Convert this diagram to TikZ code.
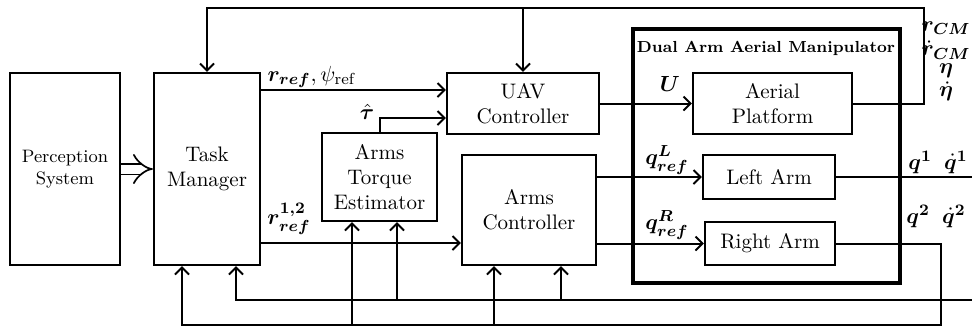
\documentclass[tikz,border=0pt]{standalone}
\usepackage{amsmath}
\usepackage{bm}
\usepackage{tikz}
\usetikzlibrary{arrows.meta}

\begin{document}
\begin{tikzpicture}[x=0.5pt,y=-0.5pt,>={Straight Barb[length=3.5pt,width=7pt]},
    every node/.style={font=\fontsize{10.5}{12.5}\selectfont},
    blk/.style={draw,line width=1.1pt,align=center,inner sep=0pt},
    lbl/.style={inner sep=0pt,font=\fontsize{11}{13}\selectfont},
    sig/.style={line width=1pt}]
    \useasboundingbox (0,0) rectangle (972,329);

    \node[blk,minimum width=55pt,minimum height=96pt,font=\fontsize{9}{11}\selectfont] (ps) at (65,169) {Perception\\System};
    \node[blk,minimum width=53pt,minimum height=96pt] (tm) at (207,169) {Task\\Manager};
    \node[blk,minimum width=76pt,minimum height=30.5pt] (uav) at (523,103.5) {UAV\\Controller};
    \node[blk,minimum width=57.5pt,minimum height=44pt] (est) at (379.5,177) {Arms\\Torque\\Estimator};
    \node[blk,minimum width=67pt,minimum height=55pt] (ac) at (529,210) {Arms\\Controller};
    \node[draw,line width=1.7pt,minimum width=133.5pt,minimum height=127pt] (dam) at (766.5,156) {};
    \node[font=\fontsize{8}{10}\selectfont\bfseries] (damt) at (766,48) {Dual Arm Aerial Manipulator};
    \node[blk,minimum width=79.5pt,minimum height=30.5pt] (ap) at (772.5,103.5) {Aerial\\Platform};
    \node[blk,minimum width=66pt,minimum height=22pt] (la) at (769,177) {Left Arm};
    \node[blk,minimum width=65pt,minimum height=21.5pt] (ra) at (770,243.5) {Right Arm};

    \draw[line width=0.85pt,double,double distance=4.5pt,-{Implies[scale=1.25]}] (ps) -- (tm);
    \draw[sig,->] (tm.east |- 0,90) -- (uav.west |- 0,90);
    \draw[sig,->] (est.north) |- (uav.west |- 0,118);
    \draw[sig,->] (uav.east) -- (ap.west);
    \draw[sig,->] (ap.east) -| (924,8) -| (tm.north);
    \draw[sig,->] (uav.north |- 0,8) -- (uav.north);
    \draw[sig,->] (tm.east |- 0,243) -- (ac.west |- 0,243);
    \draw[sig,->] (ac.east |- la.west) -- (la.west);
    \draw[sig,->] (ac.east |- ra.west) -- (ra.west);

    \coordinate (qout) at (972,177);
    \coordinate (qin) at (972,300);
    \draw[sig] (la.east) -- (qout);
    \draw[sig,->] (qin) -| (tm.south -| 236,0);
    \draw[sig,->] (397,300) -- (est.south -| 397,0);
    \draw[sig,->] (561,300) -- (ac.south -| 561,0);
    \draw[sig,->] (ra.east) -| (941,325) -| (tm.south -| 182,0);
    \draw[sig,->] (352,325) -- (est.south -| 352,0);
    \draw[sig,->] (494,325) -- (ac.south -| 494,0);

    \node[lbl] (rref) at (312,77) {$\bm{r}_{\bm{ref}},\psi_{\mathrm{ref}}$};
    \node[lbl] (tauh) at (367,112) {$\hat{\bm{\tau}}$};
    \node[lbl] (r12) at (289,219) {$\bm{r}^{\bm{1,2}}_{\bm{ref}}$};
    \node[lbl] (ulbl) at (670,84) {$\bm{U}$};
    \node[lbl] (qL) at (667,160) {$\bm{q}^{\bm{L}}_{\bm{ref}}$};
    \node[lbl] (qR) at (667,225) {$\bm{q}^{\bm{R}}_{\bm{ref}}$};
    \node[lbl] (q1) at (938,162) {$\bm{q}^{\bm{1}}\;\;\dot{\bm{q}}^{\bm{1}}$};
    \node[lbl] (q2) at (936,216) {$\bm{q}^{\bm{2}}\;\;\dot{\bm{q}}^{\bm{2}}$};
    \node[lbl] (rcm) at (946,28) {$\bm{r}_{\bm{CM}}$};
    \node[lbl] (rcmd) at (946,50) {$\dot{\bm{r}}_{\bm{CM}}$};
    \node[lbl] (eta) at (946,71) {$\bm{\eta}$};
    \node[lbl] (etad) at (946,91) {$\dot{\bm{\eta}}$};
\end{tikzpicture}
\end{document}
